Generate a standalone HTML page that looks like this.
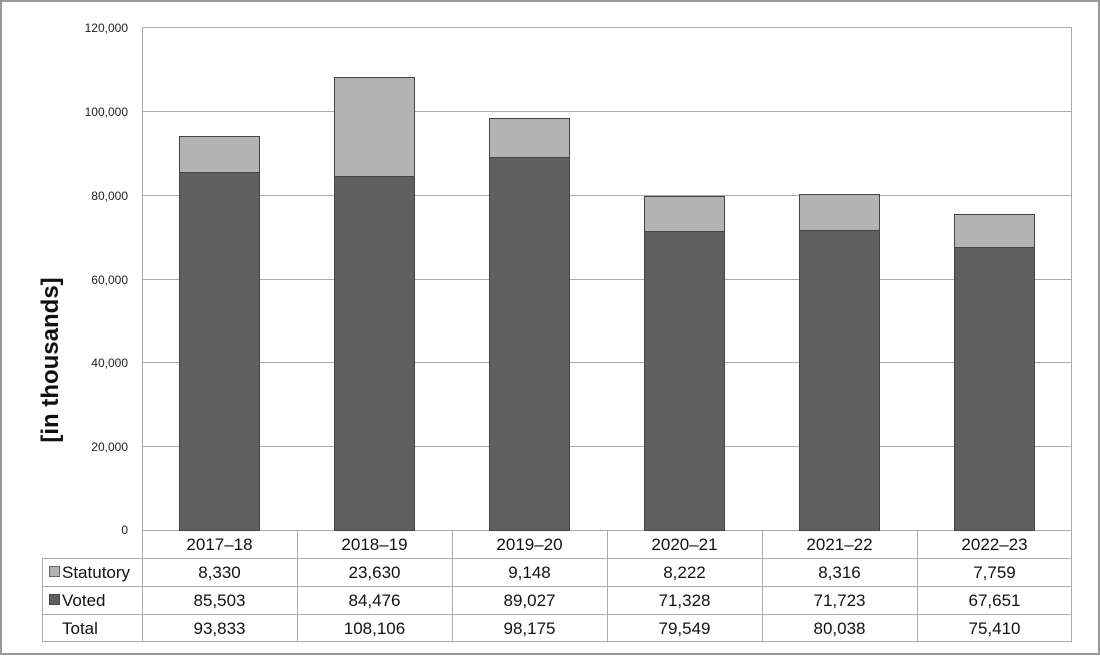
<!DOCTYPE html>
<html><head><style>
body{margin:0;background:#fff}
svg{display:block;font-family:"Liberation Sans",Arial,sans-serif}
</style></head><body>
<svg width="1100" height="656" viewBox="0 0 1100 656">
<rect x="1" y="1" width="1098" height="653" fill="#fff" stroke="#999" stroke-width="2"/>
<g stroke="#aaa" stroke-width="1">
<line x1="142" y1="27.5" x2="1072" y2="27.5"/>
<line x1="142" y1="111.5" x2="1072" y2="111.5"/>
<line x1="142" y1="195.5" x2="1072" y2="195.5"/>
<line x1="142" y1="279.5" x2="1072" y2="279.5"/>
<line x1="142" y1="362.5" x2="1072" y2="362.5"/>
<line x1="142" y1="446.5" x2="1072" y2="446.5"/>
<line x1="142.5" y1="27" x2="142.5" y2="642"/>
<line x1="1071.5" y1="27" x2="1071.5" y2="642"/>
<line x1="142" y1="530.5" x2="1072" y2="530.5"/>
<line x1="42" y1="558.5" x2="1072" y2="558.5"/>
<line x1="42" y1="586.5" x2="1072" y2="586.5"/>
<line x1="42" y1="614.5" x2="1072" y2="614.5"/>
<line x1="42" y1="641.5" x2="1072" y2="641.5"/>
<line x1="42.5" y1="558" x2="42.5" y2="642"/>
<line x1="297.5" y1="530" x2="297.5" y2="642"/>
<line x1="452.5" y1="530" x2="452.5" y2="642"/>
<line x1="607.5" y1="530" x2="607.5" y2="642"/>
<line x1="762.5" y1="530" x2="762.5" y2="642"/>
<line x1="917.5" y1="530" x2="917.5" y2="642"/>
</g>
<g font-size="12" fill="#222" text-anchor="end">
<text x="128" y="32">120,000</text>
<text x="128" y="116">100,000</text>
<text x="128" y="200">80,000</text>
<text x="128" y="284">60,000</text>
<text x="128" y="367">40,000</text>
<text x="128" y="451">20,000</text>
<text x="128" y="534">0</text>
</g>
<text transform="translate(58,360) rotate(-90)" text-anchor="middle" font-size="24" font-weight="bold" fill="#111">[in thousands]</text>
<g stroke="#444" stroke-width="1">
<rect x="179.5" y="136.5" width="80" height="36" fill="#b3b3b3"/>
<rect x="179.5" y="172.5" width="80" height="358" fill="#606060"/>
<rect x="334.5" y="77.5" width="80" height="99" fill="#b3b3b3"/>
<rect x="334.5" y="176.5" width="80" height="354" fill="#606060"/>
<rect x="489.5" y="118.5" width="80" height="39" fill="#b3b3b3"/>
<rect x="489.5" y="157.5" width="80" height="373" fill="#606060"/>
<rect x="644.5" y="196.5" width="80" height="35" fill="#b3b3b3"/>
<rect x="644.5" y="231.5" width="80" height="299" fill="#606060"/>
<rect x="799.5" y="194.5" width="80" height="36" fill="#b3b3b3"/>
<rect x="799.5" y="230.5" width="80" height="300" fill="#606060"/>
<rect x="954.5" y="214.5" width="80" height="33" fill="#b3b3b3"/>
<rect x="954.5" y="247.5" width="80" height="283" fill="#606060"/>
</g>
<g font-size="17" fill="#111" text-anchor="middle">
<text x="219.5" y="550">2017–18</text><text x="374.5" y="550">2018–19</text><text x="529.5" y="550">2019–20</text><text x="684.5" y="550">2020–21</text><text x="839.5" y="550">2021–22</text><text x="994.5" y="550">2022–23</text>
<text x="219.5" y="578">8,330</text><text x="374.5" y="578">23,630</text><text x="529.5" y="578">9,148</text><text x="684.5" y="578">8,222</text><text x="839.5" y="578">8,316</text><text x="994.5" y="578">7,759</text>
<text x="219.5" y="606">85,503</text><text x="374.5" y="606">84,476</text><text x="529.5" y="606">89,027</text><text x="684.5" y="606">71,328</text><text x="839.5" y="606">71,723</text><text x="994.5" y="606">67,651</text>
<text x="219.5" y="634">93,833</text><text x="374.5" y="634">108,106</text><text x="529.5" y="634">98,175</text><text x="684.5" y="634">79,549</text><text x="839.5" y="634">80,038</text><text x="994.5" y="634">75,410</text>
</g>
<rect x="49.5" y="566.5" width="10" height="10" fill="#b3b3b3" stroke="#666"/>
<rect x="49.5" y="594.5" width="10" height="10" fill="#606060" stroke="#444"/>
<g font-size="17" fill="#111">
<text x="62" y="578">Statutory</text>
<text x="62" y="606">Voted</text>
<text x="62" y="634">Total</text>
</g>
</svg>
</body></html>
